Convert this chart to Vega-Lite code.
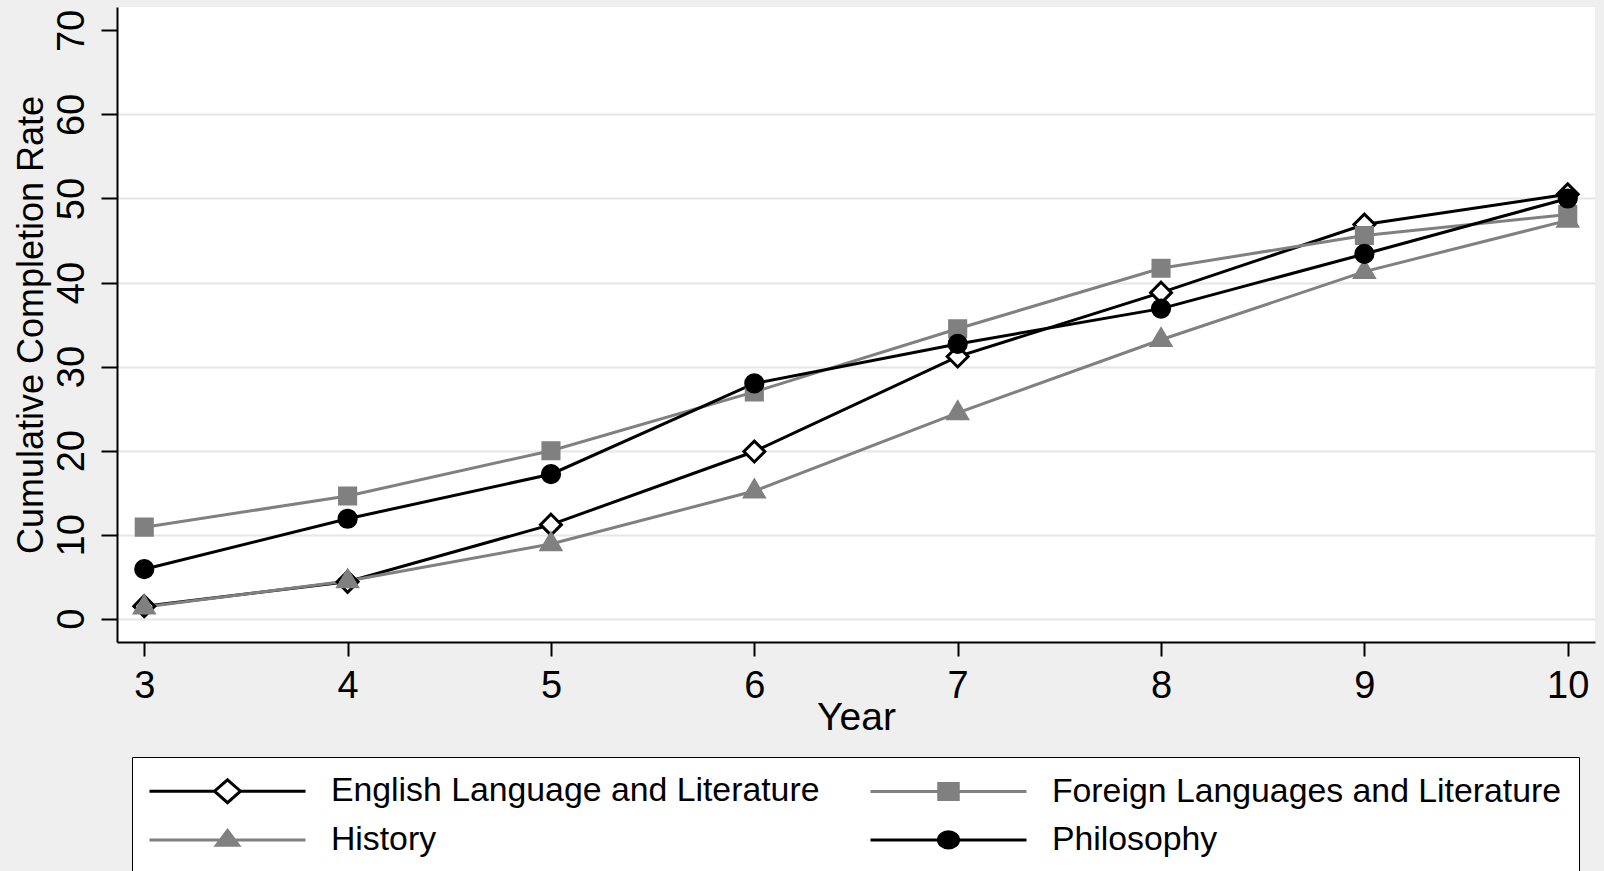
{
  "$schema": "https://vega.github.io/schema/vega-lite/v6.json",
  "autosize": {"type": "none"},
  "padding": {"left": 117, "top": 7, "right": 9, "bottom": 229},
  "width": 1478,
  "height": 635,
  "background": "#efefef",
  "config": {
    "font": "Liberation Sans",
    "view": {"stroke": null, "fill": "#ffffff"},
    "legend": {
      "orient": "none",
      "legendX": 15,
      "legendY": 750,
      "direction": "horizontal",
      "columns": 2,
      "padding": 17,
      "strokeColor": "#000000",
      "fillColor": "#ffffff",
      "labelFont": "Liberation Sans",
      "labelFontSize": 33.8,
      "labelColor": "#000000",
      "labelLimit": 900,
      "symbolSize": 676,
      "symbolStrokeWidth": 3,
      "symbolOpacity": 1,
      "symbolOffset": 61.6,
      "labelOffset": 86.5,
      "columnPadding": 44,
      "rowPadding": 13
    }
  },
  "data": {
    "values": [
      {"year": 3, "rate": 1.5, "series": "English Language and Literature"},
      {"year": 4, "rate": 4.4, "series": "English Language and Literature"},
      {"year": 5, "rate": 11.2, "series": "English Language and Literature"},
      {"year": 6, "rate": 19.9, "series": "English Language and Literature"},
      {"year": 7, "rate": 31.2, "series": "English Language and Literature"},
      {"year": 8, "rate": 38.8, "series": "English Language and Literature"},
      {"year": 9, "rate": 46.9, "series": "English Language and Literature"},
      {"year": 10, "rate": 50.5, "series": "English Language and Literature"},
      {"year": 3, "rate": 10.9, "series": "Foreign Languages and Literature"},
      {"year": 4, "rate": 14.6, "series": "Foreign Languages and Literature"},
      {"year": 5, "rate": 20.0, "series": "Foreign Languages and Literature"},
      {"year": 6, "rate": 27.0, "series": "Foreign Languages and Literature"},
      {"year": 7, "rate": 34.5, "series": "Foreign Languages and Literature"},
      {"year": 8, "rate": 41.7, "series": "Foreign Languages and Literature"},
      {"year": 9, "rate": 45.6, "series": "Foreign Languages and Literature"},
      {"year": 10, "rate": 48.1, "series": "Foreign Languages and Literature"},
      {"year": 3, "rate": 1.4, "series": "History"},
      {"year": 4, "rate": 4.5, "series": "History"},
      {"year": 5, "rate": 8.9, "series": "History"},
      {"year": 6, "rate": 15.2, "series": "History"},
      {"year": 7, "rate": 24.5, "series": "History"},
      {"year": 8, "rate": 33.2, "series": "History"},
      {"year": 9, "rate": 41.3, "series": "History"},
      {"year": 10, "rate": 47.4, "series": "History"},
      {"year": 3, "rate": 5.9, "series": "Philosophy"},
      {"year": 4, "rate": 11.9, "series": "Philosophy"},
      {"year": 5, "rate": 17.2, "series": "Philosophy"},
      {"year": 6, "rate": 28.0, "series": "Philosophy"},
      {"year": 7, "rate": 32.7, "series": "Philosophy"},
      {"year": 8, "rate": 36.9, "series": "Philosophy"},
      {"year": 9, "rate": 43.4, "series": "Philosophy"},
      {"year": 10, "rate": 50.0, "series": "Philosophy"}
    ]
  },
  "encoding": {
    "x": {
      "field": "year",
      "type": "quantitative",
      "scale": {"domain": [2.866, 10.134], "nice": false, "zero": false},
      "axis": {
        "values": [3, 4, 5, 6, 7, 8, 9, 10],
        "format": "d",
        "title": "Year",
        "titleFontSize": 39,
        "titleFontWeight": "normal",
        "titleColor": "#000000",
        "titlePadding": -7,
        "labelFontSize": 38,
        "labelColor": "#000000",
        "labelPadding": 11,
        "labelFlush": false,
        "tickSize": 14,
        "tickWidth": 2,
        "tickColor": "#000000",
        "domainColor": "#000000",
        "domainWidth": 2,
        "grid": false
      }
    },
    "y": {
      "field": "rate",
      "type": "quantitative",
      "scale": {"domain": [-2.76, 72.78], "nice": false, "zero": false},
      "axis": {
        "values": [0, 10, 20, 30, 40, 50, 60, 70],
        "title": "Cumulative Completion Rate",
        "titleFontSize": 36,
        "titleFontWeight": "normal",
        "titleColor": "#000000",
        "titlePadding": 3,
        "labelFontSize": 38,
        "labelColor": "#000000",
        "labelAngle": -90,
        "labelAlign": "center",
        "labelBaseline": "bottom",
        "labelPadding": 10,
        "labelFlush": false,
        "tickSize": 16,
        "tickWidth": 2,
        "tickColor": "#000000",
        "domainColor": "#000000",
        "domainWidth": 2,
        "grid": true,
        "gridColor": "#e6e6e6",
        "gridWidth": 2,
        "gridOpacity": {"condition": {"test": "datum.value == 70", "value": 0}, "value": 1}
      }
    }
  },
  "layer": [
    {
      "mark": {"type": "line", "strokeWidth": 3},
      "encoding": {
        "stroke": {
          "field": "series",
          "type": "nominal",
          "scale": {
            "domain": ["English Language and Literature", "Foreign Languages and Literature", "History", "Philosophy"],
            "range": ["#000000", "#808080", "#808080", "#000000"]
          },
          "legend": null
        }
      }
    },
    {
      "mark": {"type": "point", "size": 484, "filled": true, "opacity": 1},
      "encoding": {
        "shape": {
          "field": "series",
          "type": "nominal",
          "scale": {
            "domain": ["English Language and Literature", "Foreign Languages and Literature", "History", "Philosophy"],
            "range": [
              "M0,-0.95L0.95,0L0,0.95L-0.95,0Z",
              "M-0.8,-0.8H0.8V0.8H-0.8Z",
              "M0,-1.1L1,0.6L-1,0.6Z",
              "M-0.85,0A0.85,0.85 0 1,0 0.85,0A0.85,0.85 0 1,0 -0.85,0Z"
            ]
          },
          "legend": null
        },
        "fill": {
          "field": "series",
          "type": "nominal",
          "scale": {
            "domain": ["English Language and Literature", "Foreign Languages and Literature", "History", "Philosophy"],
            "range": ["#ffffff", "#808080", "#808080", "#000000"]
          },
          "legend": null
        },
        "stroke": {
          "field": "series",
          "type": "nominal",
          "scale": {
            "domain": ["English Language and Literature", "Foreign Languages and Literature", "History", "Philosophy"],
            "range": ["#000000", "#808080", "#808080", "#000000"]
          },
          "legend": null
        },
        "strokeWidth": {
          "condition": {"test": "datum.series === 'English Language and Literature'", "value": 3},
          "value": 1.5
        }
      }
    },
    {
      "mark": {"type": "point", "size": 676, "filled": true, "opacity": 0, "strokeWidth": 3},
      "encoding": {
        "shape": {
          "field": "series",
          "type": "nominal",
          "scale": {
            "domain": ["English Language and Literature", "Foreign Languages and Literature", "History", "Philosophy"],
            "range": [
              "M-6,0H-1M1,0H6M0,-0.88L1,0L0,0.88L-1,0Z",
              "M-6,0H6M-0.75,-0.62H0.75V0.62H-0.75Z",
              "M-6,0H6M0,-0.73L0.85,0.42L-0.85,0.42Z",
              "M-6,0H6M-0.77,0A0.77,0.62 0 1,0 0.77,0A0.77,0.62 0 1,0 -0.77,0Z"
            ]
          },
          "legend": {"title": null}
        },
        "fill": {
          "field": "series",
          "type": "nominal",
          "scale": {
            "domain": ["English Language and Literature", "Foreign Languages and Literature", "History", "Philosophy"],
            "range": ["#ffffff", "#808080", "#808080", "#000000"]
          },
          "legend": {"title": null}
        },
        "stroke": {
          "field": "series",
          "type": "nominal",
          "scale": {
            "domain": ["English Language and Literature", "Foreign Languages and Literature", "History", "Philosophy"],
            "range": ["#000000", "#808080", "#808080", "#000000"]
          },
          "legend": {"title": null}
        }
      }
    }
  ],
  "resolve": {"scale": {"shape": "independent", "fill": "independent", "stroke": "independent"}}
}
